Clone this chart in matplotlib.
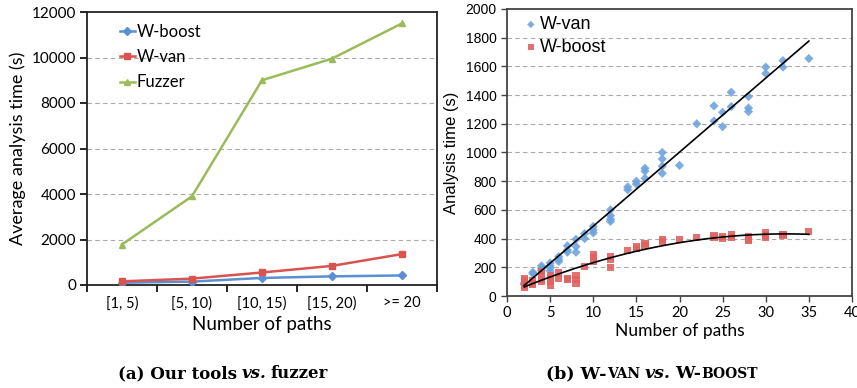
import numpy as np
import matplotlib
matplotlib.use("Agg")
import matplotlib.pyplot as plt
from matplotlib.ticker import FixedLocator

# ---------------- data (a) ----------------
categories = ["[1, 5)", "[5, 10)", "[10, 15)", "[15, 20)", ">= 20"]
w_boost_avg = [100, 150, 310, 380, 420]
w_van_avg = [160, 280, 550, 840, 1360]
fuzzer_avg = [1780, 3900, 9000, 9950, 11500]

# ---------------- data (b) ----------------
van_x = [2, 2, 3, 3, 4, 4, 4, 5, 5, 5, 5, 6, 6, 6, 7, 7, 7, 8, 8, 8, 9, 9,
         10, 10, 10, 12, 12, 12, 12, 14, 14, 15, 15, 16, 16, 16, 18, 18, 18, 18,
         20, 22, 24, 24, 25, 25, 26, 26, 28, 28, 28, 30, 30, 32, 32, 35]
van_y = [80, 90, 165, 155, 210, 195, 180, 230, 210, 195, 175, 275, 255, 240,
         350, 320, 305, 395, 345, 305, 435, 400, 485, 460, 440, 600, 560, 535,
         520, 760, 740, 800, 780, 890, 870, 820, 1000, 955, 905, 855, 910, 1200,
         1325, 1220, 1280, 1180, 1420, 1320, 1390, 1310, 1285, 1595, 1550, 1640,
         1595, 1655]
boost_x = [2, 2, 2, 2, 2, 3, 3, 3, 4, 4, 4, 4, 5, 5, 5, 5, 6, 6, 7, 7, 8, 8, 8,
           9, 10, 10, 10, 12, 12, 12, 14, 15, 15, 16, 16, 18, 18, 20, 22, 24, 24,
           25, 25, 26, 26, 28, 28, 28, 30, 30, 30, 32, 32, 35]
boost_y = [120, 105, 90, 70, 60, 110, 90, 80, 170, 145, 115, 100, 145, 125, 100,
           75, 160, 125, 125, 115, 145, 115, 90, 205, 290, 270, 240, 275, 255,
           200, 320, 345, 330, 365, 350, 395, 380, 395, 410, 420, 410, 415, 400,
           425, 410, 415, 395, 385, 445, 420, 410, 430, 425, 450]

W, H = 857, 388
fig = plt.figure(figsize=(W / 100, H / 100), dpi=100)
narrow = ["Liberation Sans Narrow", "Lato"]

# ================= panel (a) =================
axa = fig.add_axes([87 / W, 1 - 285 / H, 350 / W, 273 / H])
xpos = np.arange(len(categories)) + 0.5
blue_l, red_l, green_l = "#5B8FD3", "#D9534F", "#9BBB59"
axa.plot(xpos, w_boost_avg, color=blue_l, lw=1.8, marker="D", ms=4, label="W-boost", zorder=4)
axa.plot(xpos, w_van_avg, color=red_l, lw=1.8, marker="s", ms=5, label="W-van", zorder=4)
axa.plot(xpos, fuzzer_avg, color=green_l, lw=1.8, marker="^", ms=5, label="Fuzzer", zorder=4)
axa.set_xlim(0, len(categories))
axa.set_ylim(0, 12000)
axa.set_yticks(np.arange(0, 12001, 2000))
axa.xaxis.set_major_locator(FixedLocator(np.arange(0, len(categories) + 1)))
axa.xaxis.set_minor_locator(FixedLocator(xpos))
axa.set_xticklabels([])
axa.set_xticklabels(categories, minor=True, family=narrow, fontsize=10.5)
axa.tick_params(axis="x", which="minor", length=0, pad=8)
axa.tick_params(axis="x", which="major", length=5, width=1.2, direction="out")
axa.tick_params(axis="y", length=5, width=1.2, direction="out", pad=3)
for lab in axa.get_yticklabels():
    lab.set_family("Lato")
    lab.set_fontsize(11)
for yv in range(2000, 12000, 2000):
    axa.axhline(yv, color="#aaaaaa", lw=0.8, ls=(0, (4, 3)), zorder=1)
for s in axa.spines.values():
    s.set_linewidth(1.3)
    s.set_color("#222222")
axa.set_ylabel("Average analysis time (s)", family="Lato", fontsize=13, labelpad=4)
axa.set_xlabel("Number of paths", family=narrow, fontsize=13.5, labelpad=4)
axa.legend(loc="upper left", frameon=False, handlelength=0.9, handletextpad=0.1,
           labelspacing=0.55, prop={"family": "Lato", "size": 12},
           bbox_to_anchor=(0.075, 0.98), borderaxespad=0)

# ================= panel (b) =================
axb = fig.add_axes([507 / W, 1 - 296 / H, 345 / W, 287 / H])
blue_s, red_s = "#6FA3DE", "#E0625F"
axb.scatter(van_x, van_y, marker="D", s=22, color=blue_s, edgecolors="none", alpha=0.9,
            label="W-van", zorder=3)
axb.scatter(boost_x, boost_y, marker="s", s=26, color=red_s, edgecolors="none", alpha=0.9,
            label="W-boost", zorder=3)
xs = np.linspace(min(van_x), max(van_x), 100)
cv = np.polyfit(van_x, van_y, 1)
axb.plot(xs, np.polyval(cv, xs), color="black", lw=1.2, zorder=4)
cb = np.polyfit(boost_x, boost_y, 2)
xb = np.linspace(min(boost_x), max(boost_x), 100)
axb.plot(xb, np.polyval(cb, xb), color="black", lw=1.2, zorder=4)
axb.set_xlim(0, 40)
axb.set_ylim(0, 2000)
axb.set_xticks(np.arange(0, 41, 5))
axb.set_yticks(np.arange(0, 2001, 200))
for yv in range(200, 2000, 200):
    axb.axhline(yv, color="#aaaaaa", lw=0.8, ls=(0, (4, 3)), zorder=1)
for s in axb.spines.values():
    s.set_linewidth(1.3)
    s.set_color("#444444")
axb.tick_params(axis="both", length=4, width=1.0, direction="out", color="#444444")
for lab in axb.get_yticklabels():
    lab.set_family("Liberation Sans")
    lab.set_fontsize(10)
for lab in axb.get_xticklabels():
    lab.set_family(narrow)
    lab.set_fontsize(10.5)
axb.set_ylabel("Analysis time (s)", family="Liberation Sans", fontsize=12, labelpad=5)
axb.set_xlabel("Number of paths", family=narrow, fontsize=12.5, labelpad=2)
axb.legend(loc="upper left", frameon=False, handlelength=0.5, handletextpad=0.25,
           labelspacing=0.3, prop={"family": "Liberation Sans", "size": 13},
           bbox_to_anchor=(0.035, 1.0), borderaxespad=0, markerscale=0.8)

# ================= captions =================
def caption(parts, cx, cy):
    fig.canvas.draw()
    r = fig.canvas.get_renderer()
    items = []
    for txt, size, style, gap in parts:
        t = fig.text(0, cy, txt, fontsize=size, fontweight="bold", fontstyle=style,
                     family="DejaVu Serif", va="baseline", ha="left")
        items.append((t, gap))
    widths = [t.get_window_extent(r).width for t, _ in items]
    total = sum(widths) + sum(g for _, g in items)
    x = cx - total / 2
    for (t, g), w in zip(items, widths):
        t.set_x(x / W)
        x += w + g

base = 1 - 378 / H
caption([("(a) Our tools", 12, "normal", 4), ("vs.", 12, "italic", 4),
         ("fuzzer", 12, "normal", 0)], 223, base)
caption([("(b) W-", 12.5, "normal", 0), ("VAN", 10, "normal", 4.5), ("vs.", 12.5, "italic", 4.5),
         ("W-", 12.5, "normal", 0), ("BOOST", 10, "normal", 0)], 652, base)

fig.savefig("out.png", dpi=100)
